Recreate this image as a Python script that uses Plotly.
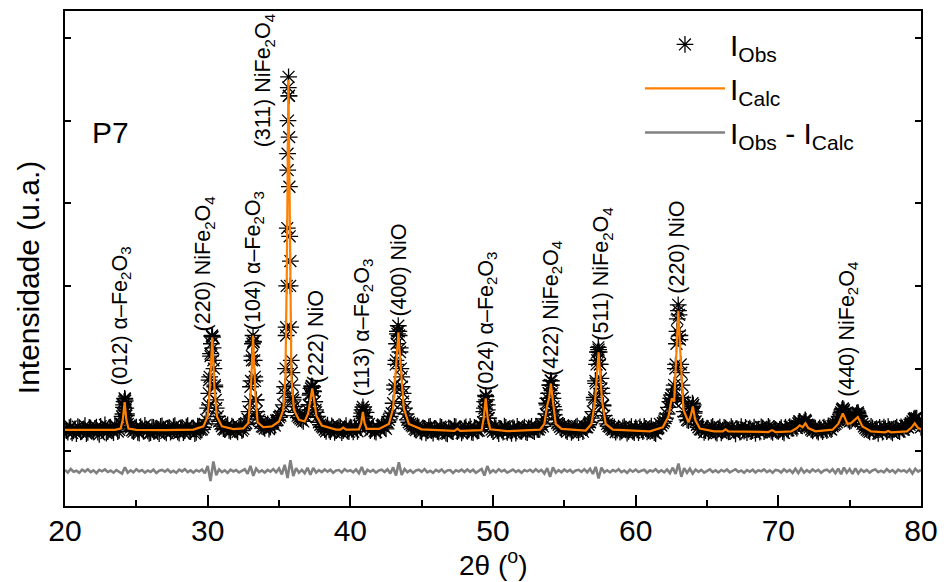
import numpy as np
import plotly.graph_objects as go

# ---------------- data ----------------
# Observed scan: counts at the even scan steps (20.0, 20.2, ... 80.0)
two_theta_scan = np.round(np.arange(20.0, 80.0001, 0.2), 1)
i_obs_scan = [
    262, 231, 298, 247, 214, 281, 256, 309, 228, 270,   # 20.0-21.8
    243, 290, 205, 266, 318, 238, 275, 224, 301, 259,   # 22.0-23.8
    420, 630, 330, 285, 236, 292, 218, 270, 311, 247,   # 24.0-25.8
    226, 288, 259, 214, 305, 243, 276, 232, 297, 262,   # 26.0-27.8
    219, 284, 251, 308, 236, 271, 227, 293, 265, 330,   # 28.0-29.8
    520, 1180, 1100, 520, 360, 305, 262, 318, 240, 286,  # 30.0-31.8
    255, 301, 248, 322, 390, 780, 1330, 620, 380, 300,  # 32.0-33.8
    275, 330, 291, 346, 372, 410, 480, 780, 3600, 2300,  # 34.0-35.8
    620, 470, 410, 380, 425, 500, 700, 730, 470, 350,   # 36.0-37.8
    300, 262, 315, 237, 281, 250, 298, 226, 271, 244,   # 38.0-39.8
    292, 235, 275, 310, 460, 400, 296, 249, 288, 232,   # 40.0-41.8
    279, 306, 290, 350, 420, 580, 1100, 1450, 900, 520,  # 42.0-43.8
    380, 330, 300, 255, 290, 232, 276, 248, 301, 219,   # 44.0-45.8
    262, 230, 289, 245, 210, 273, 238, 295, 252, 221,   # 46.0-47.8
    280, 241, 298, 226, 268, 250, 305, 520, 560, 290,   # 48.0-49.8
    237, 281, 214, 266, 302, 229, 257, 285, 218, 263,   # 50.0-51.8
    240, 291, 224, 270, 248, 296, 262, 330, 390, 560,   # 52.0-53.8
    800, 640, 380, 320, 270, 301, 236, 268, 247, 290,   # 54.0-55.8
    224, 273, 302, 290, 350, 480, 820, 1230, 760, 430,  # 56.0-57.8
    330, 295, 258, 231, 279, 246, 298, 219, 265, 240,   # 58.0-59.8
    285, 226, 262, 301, 233, 270, 249, 214, 288, 310,   # 60.0-61.8
    360, 450, 600, 620, 1050, 1700, 950, 480, 380, 420,  # 62.0-63.8
    540, 360, 290, 261, 227, 280, 246, 299, 232, 268,   # 64.0-65.8
    221, 289, 257, 236, 274, 210, 261, 298, 243, 226,   # 66.0-67.8
    279, 248, 215, 266, 294, 237, 258, 283, 229, 262,   # 68.0-69.8
    240, 285, 221, 268, 297, 276, 300, 335, 310, 350,   # 70.0-71.8
    320, 290, 246, 278, 231, 259, 290, 248, 275, 302,   # 72.0-73.8
    330, 380, 470, 500, 400, 360, 390, 430, 450, 360,   # 74.0-75.8
    300, 262, 233, 281, 247, 215, 268, 290, 238, 259,   # 76.0-77.8
    222, 276, 249, 293, 261, 300, 320, 360, 390, 340,   # 78.0-79.8
    290,                                                # 80.0
]
# Observed counts at the odd scan steps (20.1, 20.3, ... 79.9)
two_theta_scan_odd = np.round(np.arange(20.1, 79.95, 0.2), 1)
i_obs_scan_odd = [
    248, 285, 221, 270, 296, 233, 262, 214, 289, 251,   # 20.1-21.9
    276, 230, 301, 245, 219, 284, 256, 309, 238, 330,   # 22.1-23.9
    560, 450, 300, 252, 281, 229, 297, 244, 268, 215,   # 24.1-25.9
    290, 253, 237, 299, 266, 221, 284, 247, 310, 235,   # 26.1-27.9
    268, 226, 293, 249, 280, 212, 302, 257, 290, 380,   # 28.1-29.9
    860, 1390, 780, 420, 330, 272, 295, 251, 304, 262,  # 30.1-31.9
    234, 289, 270, 340, 480, 1150, 900, 420, 340, 296,  # 32.1-33.9
    312, 268, 335, 310, 380, 430, 560, 1500, 4300, 950,  # 34.1-35.9
    540, 430, 395, 360, 410, 560, 780, 600, 420, 320,   # 36.1-37.9
    286, 241, 270, 305, 229, 262, 291, 248, 310, 236,   # 38.1-39.9
    267, 298, 240, 285, 330, 470, 330, 272, 243, 291,   # 40.1-41.9
    252, 320, 270, 380, 460, 750, 1420, 1250, 700, 450,  # 42.1-43.9
    350, 312, 270, 305, 247, 281, 223, 294, 258, 276,   # 44.1-45.9
    239, 297, 254, 219, 281, 262, 300, 236, 270, 245,   # 46.1-47.9
    293, 258, 231, 287, 243, 310, 350, 660, 400, 260,   # 48.1-49.9
    296, 247, 275, 230, 289, 262, 217, 270, 299, 244,   # 50.1-51.9
    268, 233, 282, 301, 238, 264, 290, 300, 450, 700,   # 52.1-53.9
    850, 500, 340, 295, 312, 256, 283, 229, 275, 303,   # 54.1-55.9
    261, 236, 290, 320, 400, 620, 1100, 1050, 560, 370,  # 56.1-57.9
    304, 272, 290, 256, 232, 283, 261, 240, 297, 226,   # 58.1-59.9
    259, 294, 237, 274, 248, 302, 226, 268, 330, 340,   # 60.1-61.9
    400, 530, 640, 800, 1450, 1400, 650, 420, 370, 480,  # 62.1-63.9
    480, 320, 266, 300, 250, 230, 285, 257, 219, 291,   # 64.1-65.9
    256, 280, 233, 296, 249, 272, 230, 256, 288, 264,   # 66.1-67.9
    237, 292, 261, 230, 283, 255, 300, 244, 276, 247,   # 68.1-69.9
    263, 238, 291, 252, 281, 310, 280, 360, 330, 370,   # 70.1-71.9
    305, 262, 290, 247, 283, 236, 271, 305, 262, 318,   # 72.1-73.9
    350, 420, 510, 460, 380, 370, 410, 460, 420, 330,   # 74.1-75.9
    281, 248, 300, 236, 262, 289, 230, 274, 296, 241,   # 76.1-77.9
    265, 290, 237, 278, 305, 286, 340, 380, 400, 330,   # 78.1-79.9
]
# Difference curve I_obs - I_calc on the even scan steps
i_diff_scan = [
    12, -18, 25, -9, 4, -22, 17, -6, 21, -14,
    8, -25, 15, -3, 19, -12, 6, -20, 11, -7,
    -30, 45, -20, 9, -16, 22, -5, 13, -19, 7,
    -11, 18, -24, 5, 14, -8, 20, -15, 3, -21,
    16, -4, 23, -13, 8, -19, 12, -6, 19, -28,
    60, -120, 115, -50, 20, -14, 9, -22, 17, -5,
    11, -17, 6, 21, -33, 62, -58, 30, -12, 8,
    -18, 13, -7, 24, -15, 30, -40, 75, -85, 130,
    -60, 35, -20, 14, -26, 40, -45, 38, -18, 10,
    -13, 19, -8, 15, -21, 6, 12, -17, 22, -4,
    9, -15, 18, -27, 50, -42, 15, -9, 13, -19,
    7, 16, -12, 21, -30, 45, -55, 105, -48, 25,
    -14, 11, -20, 8, 17, -10, 23, -16, 4, -22,
    14, -7, 19, -18, 6, 12, -24, 9, -5, 17,
    -12, 20, -9, 15, -21, 7, 26, -55, 60, -20,
    10, -16, 22, -6, 13, -19, 5, 18, -11, 8,
    -20, 12, -4, 16, -13, 21, -8, 14, -30, 35,
    -70, 45, -20, 11, -15, 19, -7, 13, -18, 6,
    15, -10, 20, -14, 28, -35, 50, -90, 42, -15,
    9, -17, 12, -5, 21, -13, 7, -22, 16, -8,
    18, -11, 4, 15, -20, 10, -6, 22, -14, 9,
    -16, 20, -25, 40, -35, 90, -70, 35, -22, 28,
    -30, 18, -9, 14, -19, 6, 21, -12, 8, -17,
    13, -6, 19, -15, 4, 22, -11, 7, -20, 12,
    -8, 16, -18, 10, -4, 20, -13, 9, -21, 14,
    6, -17, 21, -9, 13, -22, 28, -25, 30, -18,
    11, -14, 19, -6, 15, -20, 8, 17, -12, 22,
    -26, 30, -38, 42, -20, 25, -35, 32, -28, 18,
    -10, 14, -19, 7, 20, -13, 5, -16, 23, -9,
    12, -21, 17, -4, 10, -15, 22, -30, 26, -8,
    14,
]
# Extra observed points on the Bragg peaks
two_theta_peak_obs = [
    24.06, 24.10, 24.14, 24.18, 24.22, 24.26, 24.30, 24.34,
    30.08, 30.12, 30.14, 30.20, 30.26, 30.30, 30.34, 30.38, 30.44, 30.50, 30.56,
    32.98, 33.04, 33.10, 33.14, 33.18, 33.22, 33.26, 33.32, 33.38, 33.44,
    35.40, 35.46, 35.50, 35.54, 35.58, 35.61, 35.63, 35.65, 35.67, 35.69,
    35.71, 35.73, 35.75, 35.78, 35.82, 35.86, 35.92, 35.98,
    37.10, 37.18, 37.24, 37.30, 37.36, 37.42, 37.50, 37.56,
    40.76, 40.82, 40.88, 40.94, 41.00,
    43.10, 43.18, 43.24, 43.30, 43.36, 43.42, 43.48, 43.54, 43.62, 43.70,
    49.36, 49.42, 49.48, 49.54, 49.60, 49.66,
    53.76, 53.84, 53.92, 53.98, 54.04, 54.10, 54.16, 54.24, 54.30,
    57.10, 57.18, 57.26, 57.32, 57.38, 57.44, 57.50, 57.56, 57.64, 57.72,
    62.46, 62.52, 62.58, 62.70, 62.78, 62.86, 62.92, 62.98, 63.04, 63.10,
    63.16, 63.24, 63.32, 63.92, 63.98, 64.04, 64.10,
    71.46, 71.88, 71.94,
    74.40, 74.46, 74.52, 74.58, 74.66, 75.46, 75.52, 75.58, 75.64,
    79.50, 79.58,
]
i_peak_obs = [
    450, 530, 600, 640, 610, 520, 430, 360,
    700, 560, 900, 1150, 1300, 1400, 1380, 1250, 1000, 800, 620,
    600, 850, 1100, 1300, 1400, 1320, 1100, 850, 620, 480,
    700, 1000, 1400, 2000, 2700, 3400, 4000, 4400, 4530, 4300,
    3800, 3200, 2600, 2000, 1500, 1100, 800, 650,
    560, 680, 760, 790, 780, 720, 600, 500,
    420, 500, 535, 500, 420,
    800, 1050, 1300, 1450, 1518, 1400, 1200, 1000, 780, 600,
    480, 600, 675, 620, 500, 400,
    580, 640, 700, 800, 855, 800, 700, 540, 440,
    650, 850, 1050, 1200, 1257, 1200, 1050, 880, 700, 550,
    640, 680, 620, 750, 1000, 1300, 1600, 1771, 1650, 1350,
    1050, 800, 600, 520, 580, 560, 460,
    360, 380, 360,
    450, 500, 518, 480, 420, 420, 460, 470, 430,
    390, 400,
]
# Calculated (Rietveld) profile
two_theta_calc = [
    20.0, 22.0, 23.5, 23.9, 24.05, 24.18, 24.3, 24.45, 25.0, 27.0,
    29.0, 29.7, 30.0, 30.15, 30.32, 30.48, 30.65, 31.0, 31.8, 32.5,
    32.85, 33.02, 33.18, 33.34, 33.5, 33.9, 34.5, 35.0, 35.3, 35.45,
    35.55, 35.66, 35.77, 35.87, 36.05, 36.4, 36.8, 37.05, 37.2, 37.33,
    37.46, 37.62, 38.0, 39.0, 39.3, 39.5, 39.7, 40.6, 40.76, 40.88,
    41.0, 41.15, 42.0, 42.7, 43.0, 43.2, 43.37, 43.54, 43.75, 44.1,
    45.0, 47.3, 47.5, 47.7, 49.2, 49.35, 49.49, 49.63, 49.8, 51.0,
    53.3, 53.6, 53.8, 53.93, 54.06, 54.2, 54.4, 54.8, 56.5, 56.9,
    57.15, 57.4, 57.65, 57.9, 58.4, 61.0, 61.9, 62.3, 62.53, 62.7,
    62.85, 62.99, 63.13, 63.35, 63.7, 63.85, 64.01, 64.17, 64.5, 65.5,
    66.1, 66.3, 66.5, 69.3, 69.56, 69.8, 70.9, 71.3, 71.5, 71.7,
    71.9, 72.1, 72.6, 73.8, 74.2, 74.52, 74.85, 75.1, 75.57, 75.9,
    76.5, 77.5, 77.7, 77.9, 79.0, 79.3, 79.56, 79.8, 80.0,
]
i_calc = [
    258, 256, 258, 275, 380, 594, 380, 275, 258, 256,
    262, 300, 420, 750, 1377, 750, 420, 300, 268, 275,
    340, 700, 1398, 700, 350, 290, 300, 360, 500, 900,
    2200, 4495, 2200, 900, 500, 380, 360, 460, 620, 759,
    620, 430, 310, 262, 262, 285, 262, 265, 340, 474,
    340, 270, 270, 330, 520, 1000, 1438, 1000, 520, 330,
    265, 245, 270, 245, 255, 400, 639, 400, 265, 242,
    260, 330, 554, 640, 819, 600, 330, 270, 250, 330,
    600, 1197, 600, 330, 260, 240, 290, 420, 639, 600,
    1200, 1699, 1200, 500, 350, 420, 542, 380, 275, 240,
    240, 265, 240, 232, 255, 232, 240, 280, 313, 290,
    337, 280, 240, 260, 330, 458, 330, 340, 413, 300,
    240, 228, 245, 228, 240, 280, 337, 280, 265,
]

peak_labels = [
    "(012) α–Fe<sub>2</sub>O<sub>3</sub>",
    "(220) NiFe<sub>2</sub>O<sub>4</sub>",
    "(104) α–Fe<sub>2</sub>O<sub>3</sub>",
    "(311) NiFe<sub>2</sub>O<sub>4</sub>",
    "(222) NiO",
    "(113) α–Fe<sub>2</sub>O<sub>3</sub>",
    "(400) NiO",
    "(024) α–Fe<sub>2</sub>O<sub>3</sub>",
    "(422) NiFe<sub>2</sub>O<sub>4</sub>",
    "(511) NiFe<sub>2</sub>O<sub>4</sub>",
    "(220) NiO",
    "(440) NiFe<sub>2</sub>O<sub>4</sub>",
]
peak_two_theta = [24.18, 30.32, 33.18, 35.66, 37.33, 40.88,
                  43.37, 49.49, 54.06, 57.40, 62.99, 74.52]

# ---------------- styling / layout ----------------
FONT = "Liberation Sans, Arial, sans-serif"
DIFF_OFFSET = -240
label_base = [771, 1422, 1434, 3651, 795, 639, 1603, 711, 892, 1313, 1880, 639]
label_xshift = [-3, -8, 1, -23, 4, 0, 1, 2, 2, 4, -1, 6]

obs_x = list(two_theta_scan) + list(two_theta_scan_odd) + two_theta_peak_obs
obs_y = list(i_obs_scan) + list(i_obs_scan_odd) + i_peak_obs

fig = go.Figure()
fig.add_trace(go.Scatter(
    x=obs_x, y=obs_y, mode="markers", name="I<sub>Obs</sub>",
    legendgroup="a",
    marker=dict(symbol="asterisk-open", size=14, color="black",
                line=dict(color="black", width=1.3)),
))
fig.add_trace(go.Scatter(
    x=two_theta_calc, y=i_calc, mode="lines", name="I<sub>Calc</sub>",
    legendgroup="b",
    line=dict(color="#FF8000", width=2.2),
))
fig.add_trace(go.Scatter(
    x=two_theta_scan, y=[d + DIFF_OFFSET for d in i_diff_scan], mode="lines",
    name="I<sub>Obs</sub> - I<sub>Calc</sub>", legendgroup="c",
    line=dict(color="#808080", width=2.6),
))

annotations = []
for txt, tt, yb, xs in zip(peak_labels, peak_two_theta, label_base, label_xshift):
    annotations.append(dict(
        x=tt, y=yb, xref="x", yref="y", text=txt, textangle=-90,
        showarrow=False, xanchor="center", yanchor="bottom", xshift=xs,
        font=dict(family=FONT, size=21.5, color="black"),
    ))
# sample name
annotations.append(dict(
    x=(111 - 65) / 862, y=(506 - 131) / 497, xref="paper", yref="paper",
    text="P7", showarrow=False, xanchor="center", yanchor="middle",
    font=dict(family=FONT, size=30, color="black"),
))
# y-axis title
annotations.append(dict(
    x=(29 - 65) / 862, y=(506 - 277) / 497, xref="paper", yref="paper",
    text="Intensidade (u.a.)", textangle=-90, showarrow=False,
    xanchor="center", yanchor="middle",
    font=dict(family=FONT, size=30, color="black"),
))
# x-axis title
annotations.append(dict(
    x=0.5, y=(506 - 563) / 497, xref="paper", yref="paper",
    text="2θ (<sup>o</sup>)", showarrow=False,
    xanchor="center", yanchor="middle",
    font=dict(family=FONT, size=28, color="black"),
))

fig.update_layout(
    width=947, height=582,
    margin=dict(l=65, r=20, t=9, b=76),
    paper_bgcolor="white", plot_bgcolor="white",
    font=dict(family=FONT, size=24, color="black"),
    showlegend=True,
    legend=dict(
        x=(644 - 65) / 862, y=0.985, xanchor="left", yanchor="top",
        bgcolor="rgba(0,0,0,0)", font=dict(family=FONT, size=30, color="black"),
        tracegroupgap=2, traceorder="grouped", itemwidth=80,
    ),
    annotations=annotations,
)
fig.update_xaxes(
    range=[20, 80], dtick=10, tick0=20,
    showline=True, linecolor="black", linewidth=2, mirror=True,
    ticks="inside", ticklen=11, tickwidth=1.5, tickcolor="black",
    minor=dict(dtick=5, ticks="inside", ticklen=6, tickwidth=1.5, tickcolor="black"),
    showgrid=False, zeroline=False,
    tickfont=dict(family=FONT, size=30), ticklabelstandoff=-3,
)
fig.update_yaxes(
    range=[-663, 5326], dtick=1000, tick0=0,
    showline=True, linecolor="black", linewidth=2, mirror="ticks",
    ticks="inside", ticklen=6, tickwidth=1.5, tickcolor="black",
    showticklabels=False, showgrid=False, zeroline=False,
)

fig.write_html("out.html")
